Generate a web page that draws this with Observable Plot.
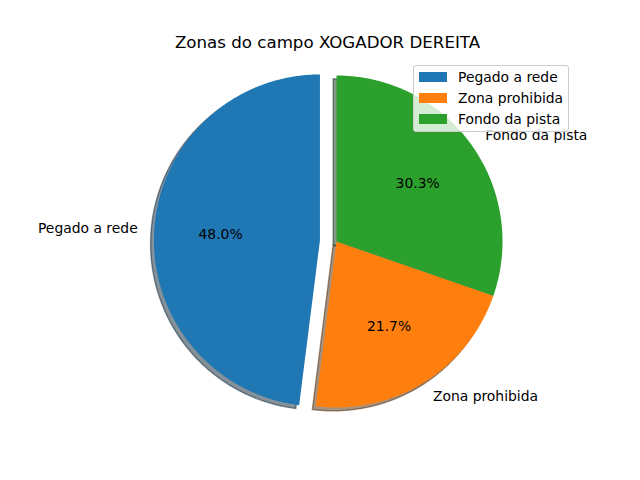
<!DOCTYPE html>
<html><head><meta charset="utf-8">
<script src="https://cdn.jsdelivr.net/npm/d3@7"></script>
<script src="https://cdn.jsdelivr.net/npm/@observablehq/plot@0.6"></script>
<style>
body{margin:0;background:#fff;font-family:"DejaVu Sans",sans-serif;}
#wrap{position:relative;width:640px;height:480px;}
#title{position:absolute;left:0;top:33px;width:655px;text-align:center;font-size:16.67px;line-height:20px;color:#000;}
#legend{position:absolute;left:413px;top:65px;width:156px;height:67px;background:rgba(255,255,255,0.8);border:1px solid #cccccc;border-radius:3px;box-sizing:border-box;}
.row{position:absolute;left:5px;height:20px;display:flex;align-items:center;font-size:13.9px;color:#000;white-space:nowrap;}
.sw{width:28px;height:10px;margin-right:11px;flex:none;}
</style></head><body><div id="wrap"><div id="title"></div><div id="legend"></div></div>
<script>
const labels = ["Pegado a rede", "Zona prohibida", "Fondo da pista"];
const values = [48.0, 21.7, 30.3];
const explode = [0.1, 0, 0];
const colors = ["#1f77b4", "#ff7f0e", "#2ca02c"];
const title = "Zonas do campo XOGADOR DEREITA";
const startAngle = 90;

const R = 166; // pixels per unit radius
const total = d3.sum(values);
const slices = [];
let t1 = startAngle;
values.forEach((v, i) => {
  const t2 = t1 + 360 * v / total;
  const mid = (t1 + t2) / 2 * Math.PI / 180;
  const cx = explode[i] * Math.cos(mid), cy = explode[i] * Math.sin(mid);
  const pts = [{x: cx, y: cy}];
  const n = Math.max(2, Math.ceil((t2 - t1) * 2));
  for (let k = 0; k <= n; k++) {
    const a = (t1 + (t2 - t1) * k / n) * Math.PI / 180;
    pts.push({x: cx + Math.cos(a), y: cy + Math.sin(a)});
  }
  pts.push({x: cx, y: cy});
  const rgb = d3.rgb(colors[i]);
  const shadowColor = d3.rgb(rgb.r * 0.3, rgb.g * 0.3, rgb.b * 0.3).formatHex();
  slices.push({
    i, pts, shadow: pts.map(p => ({x: p.x - 0.02, y: p.y - 0.02})), color: colors[i], shadowColor,
    label: {x: cx + 1.1 * Math.cos(mid), y: cy + 1.1 * Math.sin(mid), text: labels[i], right: Math.cos(mid) >= 0},
    pct: {x: cx + 0.6 * Math.cos(mid), y: cy + 0.6 * Math.sin(mid), text: (100 * v / total).toFixed(1) + "%"}
  });
  t1 = t2;
});

const marks = [];
slices.forEach(s => marks.push(Plot.line(s.shadow, {x: "x", y: "y", fill: s.shadowColor, stroke: s.shadowColor, fillOpacity: 0.5, strokeOpacity: 0.5, strokeWidth: 1.4, curve: "linear"})));
slices.forEach(s => marks.push(Plot.line(s.pts, {x: "x", y: "y", fill: s.color, stroke: "none", curve: "linear"})));
const lab = slices.map(s => s.label);
const pct = slices.map(s => s.pct);
marks.push(Plot.text(lab.filter(d => d.right), {x: "x", y: "y", text: "text", textAnchor: "start", lineAnchor: "middle", fontSize: 13.9, fill: "black"}));
marks.push(Plot.text(lab.filter(d => !d.right), {x: "x", y: "y", text: "text", textAnchor: "end", lineAnchor: "middle", fontSize: 13.9, fill: "black"}));
marks.push(Plot.text(pct, {x: "x", y: "y", text: "text", textAnchor: "middle", lineAnchor: "middle", fontSize: 13.9, fill: "black"}));

const plot = Plot.plot({
  width: 640, height: 480, margin: 0,
  style: {fontFamily: "DejaVu Sans", background: "transparent", overflow: "visible"},
  x: {domain: [-336 / R, 304 / R], range: [0, 640], axis: null},
  y: {domain: [-239 / R, 241 / R], range: [480, 0], axis: null},
  marks
});
const wrap = document.getElementById("wrap");
wrap.insertBefore(plot, wrap.firstChild);
document.getElementById("title").textContent = title;
const legend = document.getElementById("legend");
labels.forEach((l, i) => {
  const row = document.createElement("div");
  row.className = "row";
  row.style.top = (1 + i * 21) + "px";
  row.innerHTML = `<div class="sw" style="background:${colors[i]}"></div><span>${l}</span>`;
  legend.appendChild(row);
});
</script></body></html>
